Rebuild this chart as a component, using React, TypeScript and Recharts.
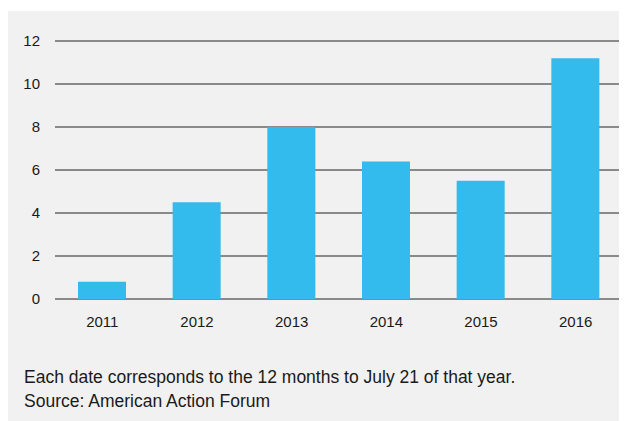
import React from 'react';
import { BarChart, Bar, XAxis, YAxis, CartesianGrid } from 'recharts';

const years = ['2011', '2012', '2013', '2014', '2015', '2016'];
const values = [0.8, 4.5, 8.0, 6.4, 5.5, 11.2];
const yTicks = [0, 2, 4, 6, 8, 10, 12];
const captionLines = [
  'Each date corresponds to the 12 months to July 21 of that year.',
  'Source: American Action Forum',
];

const data = years.map((year, i) => ({ year, value: values[i] }));

const font = '"Liberation Sans", Arial, Helvetica, sans-serif';

export default function App() {
  return (
    <div
      style={{
        position: 'relative',
        marginTop: 3,
        width: 619,
        height: 410,
        background: '#f1f1f1',
        fontFamily: font,
      }}
    >
      <BarChart width={619} height={318} data={data} margin={{ top: 30, right: 4, left: 0, bottom: 0 }}>
        <CartesianGrid vertical={false} stroke="#222" strokeWidth={1} />
        <XAxis
          dataKey="year"
          axisLine={false}
          tickLine={false}
          tickSize={6}
          tickMargin={11}
          tick={{ fill: '#1a1a1a', fontSize: 15, fontFamily: font }}
        />
        <YAxis
          width={47}
          domain={[0, 12]}
          ticks={yTicks}
          axisLine={false}
          tickLine={false}
          tickSize={6}
          tickMargin={9}
          tick={{ fill: '#1a1a1a', fontSize: 15, fontFamily: font }}
        />
        <Bar dataKey="value" fill="#32bbec" barSize={48} isAnimationActive={false} />
      </BarChart>
      <div style={{ position: 'absolute', left: 16, top: 354, fontSize: 17.5, lineHeight: '24px', color: '#1a1a1a' }}>
        {captionLines.map((line) => (
          <div key={line}>{line}</div>
        ))}
      </div>
    </div>
  );
}
